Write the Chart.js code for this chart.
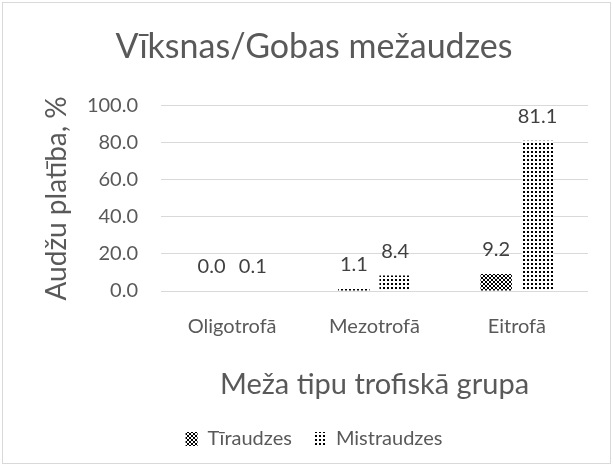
<!DOCTYPE html>
<html>
<head>
<meta charset="utf-8">
<script src="https://cdn.jsdelivr.net/npm/chart.js@4/dist/chart.umd.min.js"></script>
<style>
  html, body { margin: 0; padding: 0; background: #fff; }
  #wrap { position: absolute; left: 2px; top: 2px; width: 607px; height: 460px; border: 1px solid #d9d9d9; }
</style>
</head>
<body>
<div id="wrap"><canvas id="forestChart" width="607" height="460"></canvas></div>
<script>
// chart data
const categories = ['Oligotrofā', 'Mezotrofā', 'Eitrofā'];
const tiraudzes = [0.0, 1.1, 9.2];
const mistraudzes = [0.1, 8.4, 81.1];
const yTicks = [0, 20, 40, 60, 80, 100];

const textColor = '#595959';
const fontName = 'Lato, "Open Sans", sans-serif';

// hatch patterns like in excel
function makePattern(kind) {
    const c = document.createElement('canvas');
    c.width = 4; c.height = 4;
    const ctx = c.getContext('2d');
    ctx.fillStyle = '#fff';
    ctx.fillRect(0, 0, 4, 4);
    ctx.fillStyle = '#000';
    if (kind === 'checker') {
        ctx.fillRect(0, 0, 2, 2);
        ctx.fillRect(2, 2, 2, 2);
    } else {
        ctx.fillRect(0, 0, 2, 2); // sparse dots
    }
    return ctx.createPattern(c, 'repeat');
}

const checker = makePattern('checker');
const dots = makePattern('dots');

// draws the value above every bar
const valueLabels = {
    id: 'valueLabels',
    afterDatasetsDraw(chart) {
        const ctx = chart.ctx;
        ctx.save();
        ctx.font = '20px ' + fontName;
        ctx.fillStyle = '#404040';
        ctx.textAlign = 'center';
        ctx.textBaseline = 'middle';
        chart.data.datasets.forEach((ds, i) => {
            chart.getDatasetMeta(i).data.forEach((bar, j) => {
                ctx.fillText(ds.data[j].toFixed(1), bar.x, bar.y - 24);
            });
        });
        ctx.restore();
    }
};

new Chart('forestChart', {
    type: 'bar',
    data: {
        labels: categories,
        datasets: [{
            label: 'Tīraudzes',
            data: tiraudzes,
            backgroundColor: checker,
            borderWidth: 0,
            categoryPercentage: 0.58,
            barPercentage: 0.76,
        }, {
            label: 'Mistraudzes',
            data: mistraudzes,
            backgroundColor: dots,
            borderWidth: 0,
            categoryPercentage: 0.58,
            barPercentage: 0.76,
        }]
    },
    options: {
        responsive: false,
        animation: false,
        layout: { padding: { left: 37, right: 22, top: 6, bottom: 4 } },
        plugins: {
            title: {
                display: true,
                text: 'Vīksnas/Gobas mežaudzes',
                color: textColor,
                font: { family: fontName, size: 34, weight: 'normal' },
                padding: { top: 18, bottom: 38 },
            },
            legend: {
                position: 'bottom',
                labels: {
                    color: textColor,
                    font: { family: fontName, size: 20 },
                    boxWidth: 12,
                    boxHeight: 14,
                    padding: 22,
                },
            },
            tooltip: { enabled: false },
        },
        scales: {
            x: {
                grid: { display: false },
                border: { display: false },
                afterFit: (scale) => { scale.height = 116; }, // fixed axis band height
                ticks: {
                    color: textColor,
                    font: { family: fontName, size: 20 },
                    padding: 16,
                    maxRotation: 0,
                    autoSkip: false,
                },
                title: {
                    display: true,
                    text: 'Meža tipu trofiskā grupa',
                    color: textColor,
                    font: { family: fontName, size: 29 },
                    padding: { top: 10, bottom: 5 },
                },
            },
            y: {
                min: 0,
                max: 100,
                afterBuildTicks: (axis) => { axis.ticks = yTicks.map(v => ({ value: v })); },
                afterFit: (scale) => { scale.width = 121; },
                grid: { color: '#d9d9d9', drawTicks: false },
                border: { display: false },
                ticks: {
                    color: textColor,
                    font: { family: fontName, size: 20 },
                    padding: 23,
                    callback: (v) => v.toFixed(1),
                },
                title: {
                    display: true,
                    text: 'Audžu platība, %',
                    color: textColor,
                    font: { family: fontName, size: 28 },
                    padding: { top: 0, bottom: 0 },
                },
            },
        },
    },
    plugins: [valueLabels],
});
</script>
</body>
</html>
